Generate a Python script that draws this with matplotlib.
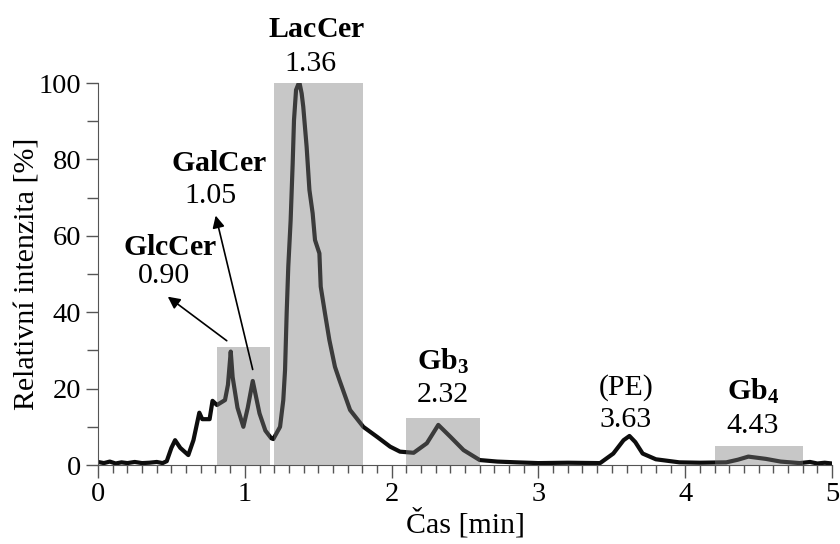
import matplotlib
matplotlib.use("Agg")
import matplotlib.pyplot as plt
from matplotlib.patches import Rectangle
from matplotlib.ticker import MultipleLocator

plt.rcParams["font.family"] = ["Liberation Serif", "DejaVu Serif"]
plt.rcParams["mathtext.fontset"] = "custom"
plt.rcParams["mathtext.rm"] = "Liberation Serif"
plt.rcParams["mathtext.bf"] = "Liberation Serif:bold"

# chromatogram trace (time in min, relative intensity in %)
time = [0.00, 0.04, 0.08, 0.12, 0.16, 0.20, 0.25, 0.30, 0.35, 0.40, 0.44, 0.468,
        0.50, 0.525, 0.56, 0.615, 0.65, 0.69, 0.71, 0.76, 0.78, 0.81, 0.865,
        0.885, 0.904, 0.917, 0.95, 0.99, 1.02, 1.054, 1.10, 1.14, 1.18, 1.194,
        1.24, 1.262, 1.274, 1.285, 1.296, 1.312, 1.326, 1.335, 1.349, 1.371,
        1.387, 1.398, 1.421, 1.44, 1.462, 1.478, 1.508, 1.517, 1.546, 1.576,
        1.614, 1.644, 1.717, 1.807, 1.90, 1.99, 2.057, 2.15, 2.24, 2.318, 2.40,
        2.49, 2.60, 2.72, 2.85, 3.0, 3.2, 3.42, 3.51, 3.58, 3.62, 3.66, 3.71,
        3.80, 3.96, 4.1, 4.28, 4.36, 4.43, 4.55, 4.65, 4.78, 4.85, 4.9, 4.95, 5.0]
intensity = [0.8, 0.5, 0.9, 0.4, 0.7, 0.5, 0.8, 0.5, 0.6, 0.8, 0.5, 1.0,
             4.5, 6.5, 4.5, 2.6, 6.5, 13.7, 12.0, 12.0, 16.8, 15.7, 17.0,
             21.0, 29.7, 23.0, 15.0, 10.0, 15.0, 22.0, 13.5, 9.0, 7.0, 6.8,
             10.0, 17.0, 24.9, 39.7, 51.9, 64.0, 79.0, 90.3, 98.2, 100.3,
             97.3, 93.8, 83.3, 72.0, 65.9, 58.9, 55.4, 46.7, 39.7, 32.7,
             25.7, 22.3, 14.4, 10.0, 7.4, 4.8, 3.5, 3.2, 5.7, 10.5, 7.4,
             3.9, 1.3, 0.9, 0.7, 0.5, 0.6, 0.5, 3.0, 6.5, 7.6, 6.0, 3.0,
             1.5, 0.7, 0.6, 0.7, 1.4, 2.2, 1.6, 0.9, 0.5, 0.8, 0.4, 0.6, 0.4]

# shaded integration windows
box_start = [0.81, 1.20, 2.10, 4.20]
box_end = [1.17, 1.805, 2.60, 4.80]
box_height = [30.9, 100.0, 12.3, 5.0]

# peak labels (name above, retention time below), baseline positions in data units
peak_names = [r"$\mathbf{LacCer}$", r"$\mathbf{GalCer}$", r"$\mathbf{GlcCer}$",
              r"$\mathbf{Gb_3}$", "(PE)", r"$\mathbf{Gb_4}$"]
peak_times = ["1.36", "1.05", "0.90", "2.32", "3.63", "4.43"]
name_x = [1.49, 0.826, 0.49, 2.347, 3.596, 4.464]
name_y = [112.1, 77.0, 55.0, 24.9, 18.3, 17.0]
time_x = [1.45, 0.768, 0.452, 2.347, 3.596, 4.458]
time_y = [103.1, 68.5, 47.6, 16.6, 10.0, 8.3]

fs = 21.5
fs_tick = 20.5

fig = plt.figure(figsize=(8.4, 5.44), dpi=100)
ax = fig.add_axes([0.1167, 0.1452, 0.8738, 0.7022])

ax.plot(time, intensity, color="#0d0d0d", lw=3.0, solid_joinstyle="round", zorder=2)

for x0, x1, h in zip(box_start, box_end, box_height):
    ax.add_patch(Rectangle((x0, 0), x1 - x0, h, facecolor="#7b7b7b",
                           alpha=0.42, edgecolor="none", zorder=3))

for name, x, y in zip(peak_names, name_x, name_y):
    ax.text(x, y, name, ha="center", va="baseline", fontsize=fs, clip_on=False)
for t, x, y in zip(peak_times, time_x, time_y):
    ax.text(x, y, t, ha="center", va="baseline", fontsize=fs, clip_on=False)

# arrows pointing to the small peaks
ax.annotate("", xy=(0.46, 44.5), xytext=(0.892, 32.1),
            arrowprops=dict(arrowstyle="-|>", color="black", lw=1.2, mutation_scale=18))
ax.annotate("", xy=(0.797, 66.0), xytext=(1.058, 24.3),
            arrowprops=dict(arrowstyle="-|>", color="black", lw=1.2, mutation_scale=18))

ax.set_xlim(0, 5)
ax.set_ylim(0, 100)
ax.xaxis.set_major_locator(MultipleLocator(1))
ax.xaxis.set_minor_locator(MultipleLocator(0.1))
ax.yaxis.set_major_locator(MultipleLocator(20))
ax.yaxis.set_minor_locator(MultipleLocator(10))
ax.tick_params(which="major", length=9, width=1, color="#555555", labelsize=fs_tick, pad=3)
ax.tick_params(which="minor", length=6, width=1, color="#555555")
ax.tick_params(axis="y", which="minor", length=8)

for side in ["top", "right"]:
    ax.spines[side].set_visible(False)
for side in ["left", "bottom"]:
    ax.spines[side].set_color("#555555")

ax.set_xlabel("Čas [min]", fontsize=fs, labelpad=1)
ax.set_ylabel("Relativní intenzita [%]", fontsize=fs, labelpad=-1)

fig.savefig("out.png", dpi=100)
